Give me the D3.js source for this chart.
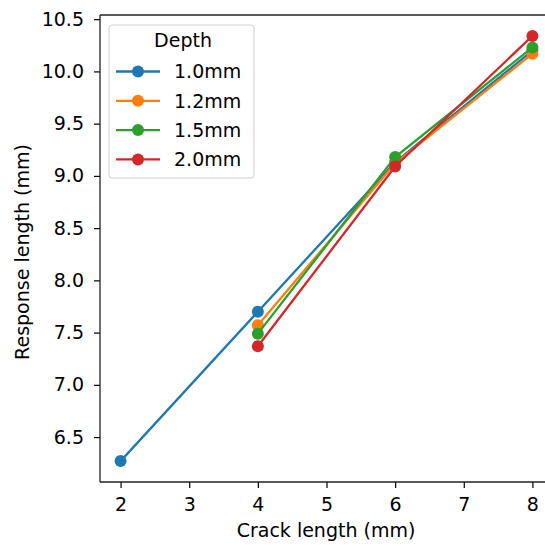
<!DOCTYPE html>
<html>
<head>
<meta charset="utf-8">
<script src="https://cdn.jsdelivr.net/npm/d3@7"></script>
<style>
  body { margin: 0; background: #fff; }
  text { font-family: "DejaVu Sans", sans-serif; fill: #000; }
</style>
</head>
<body>
<div id="chart"></div>
<script>
var depths = ["1.0mm", "1.2mm", "1.5mm", "2.0mm"];
var colors = ["#1f77b4", "#ff7f0e", "#2ca02c", "#d62728"];

var crack10 = [2, 4, 6, 8];
var resp10 = [6.27, 7.70, 9.13, 10.20];
var crack12 = [4, 6, 8];
var resp12 = [7.57, 9.12, 10.17];
var crack15 = [4, 6, 8];
var resp15 = [7.49, 9.18, 10.23];
var crack20 = [4, 6, 8];
var resp20 = [7.37, 9.09, 10.34];

var xTicks = [2, 3, 4, 5, 6, 7, 8];
var yTicks = [6.5, 7.0, 7.5, 8.0, 8.5, 9.0, 9.5, 10.0, 10.5];

var series = [
  { name: depths[0], xs: crack10, ys: resp10 },
  { name: depths[1], xs: crack12, ys: resp12 },
  { name: depths[2], xs: crack15, ys: resp15 },
  { name: depths[3], xs: crack20, ys: resp20 }
];

var svgWidth = 545;
var svgHeight = 549;
var fontSize = "19px";

var margin = { top: 15, right: -8, bottom: 67, left: 100 };
var width = svgWidth - margin.left - margin.right;
var height = svgHeight - margin.top - margin.bottom;

var svg = d3.select("#chart")
  .append("svg")
  .attr("width", svgWidth)
  .attr("height", svgHeight);

var chartGroup = svg.append("g")
  .attr("transform", `translate(${margin.left}, ${margin.top})`);

var xScale = d3.scaleLinear()
  .domain([1.7, 8.3])
  .range([0, width]);

var yScale = d3.scaleLinear()
  .domain([6.07, 10.54])
  .range([height, 0]);

var bottomAxis = d3.axisBottom(xScale)
  .tickValues(xTicks)
  .tickFormat(d3.format("d"))
  .tickSize(6)
  .tickPadding(10);

var leftAxis = d3.axisLeft(yScale)
  .tickValues(yTicks)
  .tickFormat(d3.format(".1f"))
  .tickSize(6)
  .tickPadding(10);

var xAxisG = chartGroup.append("g")
  .attr("transform", `translate(0, ${height})`)
  .call(bottomAxis);

var yAxisG = chartGroup.append("g")
  .call(leftAxis);

[xAxisG, yAxisG].forEach(function(g) {
  g.select(".domain").remove();
  g.selectAll(".tick line").attr("stroke", "#000").attr("stroke-width", 1.2);
  g.selectAll(".tick text")
    .style("font-family", "DejaVu Sans, sans-serif")
    .style("font-size", fontSize)
    .attr("fill", "#222");
});

// spines
chartGroup.append("line")
  .attr("x1", 0).attr("x2", 0).attr("y1", 0).attr("y2", height)
  .attr("stroke", "#222").attr("stroke-width", 1.3);
chartGroup.append("line")
  .attr("x1", 0).attr("x2", width).attr("y1", height).attr("y2", height)
  .attr("stroke", "#222").attr("stroke-width", 1.3);
chartGroup.append("line")
  .attr("x1", 0).attr("x2", width).attr("y1", 0).attr("y2", 0)
  .attr("stroke", "#222").attr("stroke-width", 1.3);

var line = d3.line()
  .x(d => xScale(d[0]))
  .y(d => yScale(d[1]));

series.forEach(function(s, i) {
  var pts = s.xs.map((x, j) => [x, s.ys[j]]);
  var g = chartGroup.append("g");
  g.append("path")
    .datum(pts)
    .attr("d", line)
    .attr("fill", "none")
    .attr("stroke", colors[i])
    .attr("stroke-width", 2.3);
  g.selectAll("circle")
    .data(pts)
    .enter()
    .append("circle")
    .attr("cx", d => xScale(d[0]))
    .attr("cy", d => yScale(d[1]))
    .attr("r", 6)
    .attr("fill", colors[i]);
});

// legend
var legend = svg.append("g")
  .attr("transform", "translate(109, 25)");

legend.append("rect")
  .attr("width", 145)
  .attr("height", 153)
  .attr("rx", 3)
  .attr("fill", "#fff")
  .attr("fill-opacity", 0.8)
  .attr("stroke", "#d0d0d0")
  .attr("stroke-width", 1);

legend.append("text")
  .attr("x", 74)
  .attr("y", 22)
  .attr("text-anchor", "middle")
  .style("font-size", fontSize)
  .text("Depth");

depths.forEach(function(name, i) {
  var y = 46.5 + i * 29.3;
  legend.append("line")
    .attr("x1", 7).attr("x2", 51).attr("y1", y).attr("y2", y)
    .attr("stroke", colors[i]).attr("stroke-width", 2.3);
  legend.append("circle")
    .attr("cx", 29).attr("cy", y).attr("r", 6)
    .attr("fill", colors[i]);
  legend.append("text")
    .attr("x", 65)
    .attr("y", y + 6.8)
    .style("font-size", fontSize)
    .text(name);
});

// axis labels
svg.append("text")
  .attr("transform", `translate(326, 537)`)
  .attr("text-anchor", "middle")
  .style("font-size", fontSize)
  .text("Crack length (mm)");

svg.append("text")
  .attr("transform", `translate(29, 252) rotate(-90)`)
  .attr("text-anchor", "middle")
  .style("font-size", fontSize)
  .text("Response length (mm)");
</script>
</body>
</html>
